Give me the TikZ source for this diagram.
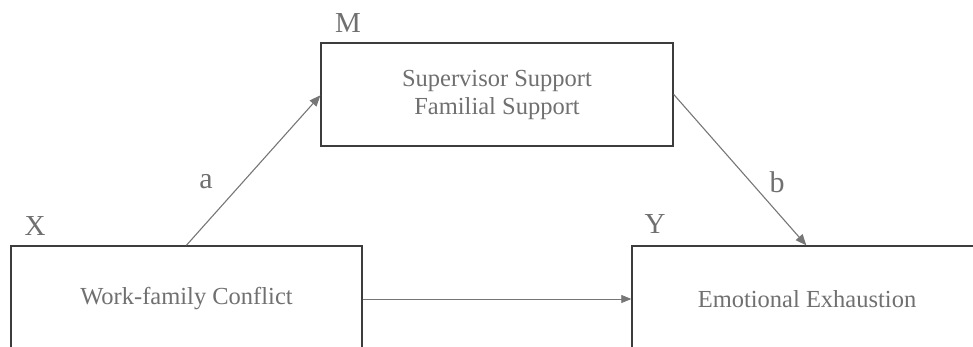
\documentclass[tikz,border=0pt]{standalone}
\usepackage{fontspec}
\setmainfont{Liberation Serif}
\usetikzlibrary{arrows.meta,calc}
\definecolor{txtgray}{HTML}{707070}
\definecolor{boxgray}{HTML}{3C3C3C}
\definecolor{arrgray}{HTML}{767676}
\tikzset{
  varbox/.style={draw=boxgray, line width=1.3pt, fill=white, inner sep=0pt,
    font=\fontsize{24.5}{28}\selectfont, text=txtgray, align=center},
  biglabel/.style={text=txtgray, font=\fontsize{29}{30}\selectfont, inner sep=0pt},
  pathlabel/.style={text=txtgray, font=\fontsize{30}{30}\selectfont, inner sep=0pt},
  patharrow/.style={draw=arrgray, line width=1.1pt, -{Triangle[length=11pt,width=9pt]}},
  directarrow/.style={draw=arrgray, line width=0.7pt, -{Triangle[length=10pt,width=8pt]}}
}
\begin{document}
\begin{tikzpicture}[x=1pt,y=-1pt]
\useasboundingbox (0,0) rectangle (973,347);
\node[varbox, minimum width=351pt, minimum height=106pt] (X) at (186.5,299) {Work-family Conflict};
\node[varbox, minimum width=350pt, minimum height=106pt] (Y) at (807,299) {Emotional Exhaustion};
\node[varbox, minimum width=352pt, minimum height=103pt] (M) at (497,94.5) {Supervisor Support\\Familial Support};
\node[biglabel] (lx) at (35,226) {X};
\node[biglabel] (lm) at (348,23) {M};
\node[biglabel] (ly) at (655,224) {Y};
\node[pathlabel] (la) at (206,182) {a};
\node[pathlabel] (lb) at (777,182) {b};
\coordinate (aStart) at ($(X.north west)+(176,0)$);
\coordinate (aEnd) at ($(M.north west)+(0,53)$);
\coordinate (bStart) at ($(M.north east)+(0,52)$);
\coordinate (bEnd) at ($(Y.north west)+(175,0)$);
\draw[patharrow] (aStart) -- (aEnd);
\draw[patharrow] (bStart) -- (bEnd);
\draw[directarrow] (X.east) -- (Y.west);
\end{tikzpicture}
\end{document}
